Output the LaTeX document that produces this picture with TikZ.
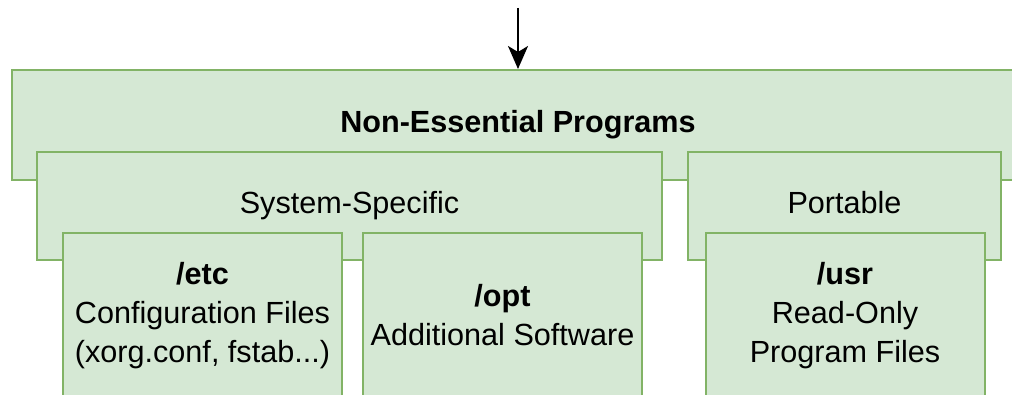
\documentclass[tikz,border=0pt]{standalone}
\usepackage{fontspec}
\setmainfont{Liberation Sans}
\usetikzlibrary{arrows.meta}
\definecolor{boxfill}{HTML}{D5E8D4}
\definecolor{boxline}{HTML}{82B366}
\tikzset{
  dirbox/.style={draw=boxline, fill=boxfill, line width=2pt, inner sep=0pt,
    align=center, font=\fontsize{30.6}{39}\selectfont},
  onerow/.style={text height=22pt, text depth=7pt},
  feed/.style={line width=2pt, -{Stealth[length=23pt,width=20pt,inset=6pt]}},
}

\begin{document}
\begin{tikzpicture}[x=1pt,y=-1pt]
		%%%%% START %%%%%
		
		\clip (0,0) rectangle (1012,395);
		\fill[white] (0,0) rectangle (1012,395);
		
		% outer group
		\node[dirbox, onerow, minimum width=1012pt, minimum height=110pt] (prog) at (518,125) {\textbf{Non-Essential Programs}};
		
		% second level
		\node[dirbox, onerow, minimum width=625pt, minimum height=108pt] (sysspec) at (349.5,206) {System-Specific};
		\node[dirbox, onerow, minimum width=313pt, minimum height=108pt] (portable) at (844.5,206) {Portable};
		
		% directories
		\node[dirbox, minimum width=279pt, minimum height=165pt] (etc) at (202.5,315.5) {\textbf{/etc}\\Configuration Files\\(xorg.conf, fstab...)};
		\node[dirbox, minimum width=279pt, minimum height=165pt] (opt) at (502.5,315.5) {\textbf{/opt}\\Additional Software};
		\node[dirbox, minimum width=279pt, minimum height=165pt] (usr) at (845,315.5) {\textbf{/usr}\\Read-Only\\Program Files};
		
		% incoming arrow
		\coordinate (top) at (518,8);
		\draw[feed] (top) -- (prog.north);
		
		%%%%% END %%%%%
\end{tikzpicture}
\end{document}
